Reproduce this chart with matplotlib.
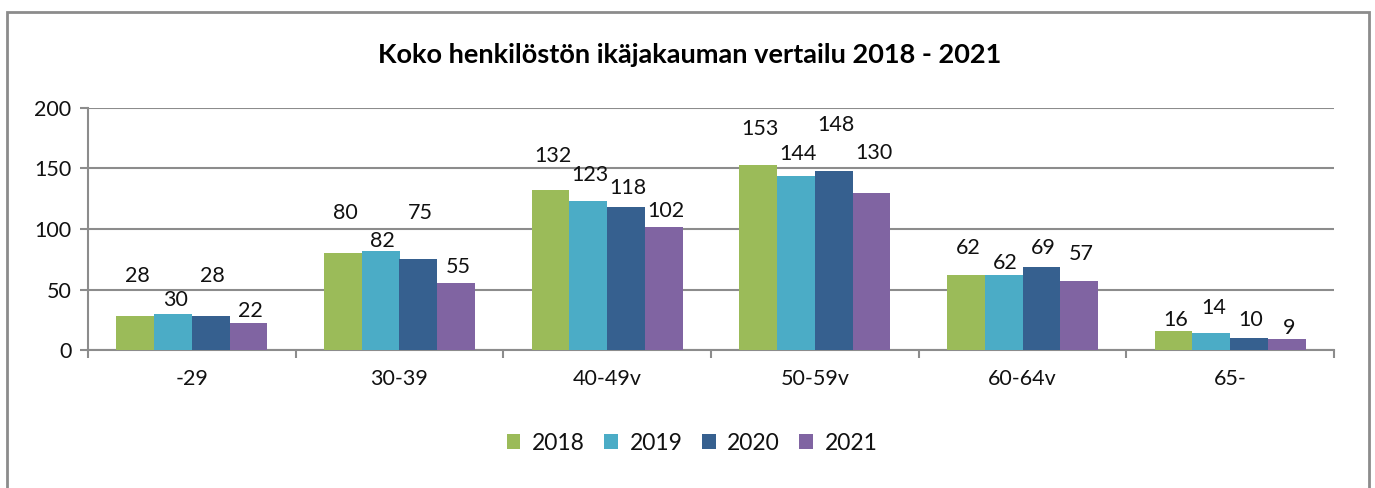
import matplotlib
matplotlib.use('Agg')
import matplotlib.pyplot as plt
import matplotlib.patches as patches
import numpy as np

# ── DATA ─────────────────────────────────────────────────────────────────────
CATEGORIES = ['-29', '30-39', '40-49v', '50-59v', '60-64v', '65-']
YEARS = ['2018', '2019', '2020', '2021']
V2018 = [28, 80, 132, 153, 62, 16]
V2019 = [30, 82, 123, 144, 62, 14]
V2020 = [28, 75, 118, 148, 69, 10]
V2021 = [22, 55, 102, 130, 57, 9]
TITLE = 'Koko henkilöstön ikäjakauman vertailu 2018 - 2021'

# label heights (data units) as placed by hand in the original
LABEL_Y = [
    [61, 113, 160, 183, 84, 25],
    [41, 90, 145, 162, 72, 35],
    [61, 113, 134, 186, 84, 25],
    [32, 69, 115, 163, 79, 18],
]

COLORS = ['#9BBB59', '#4BACC6', '#36608F', '#8064A2']
GRID = '#8C8C8C'
FONT = 'Lato'

plt.rcParams['font.family'] = FONT

fig = plt.figure(figsize=(13.75, 4.88), dpi=100)
ax = fig.add_axes([88 / 1375, 1 - 350 / 488, (1334 - 88) / 1375, (350 - 108) / 488])

series = [V2018, V2019, V2020, V2021]
x = np.arange(len(CATEGORIES))
w = 0.1815
for i, (vals, col, year) in enumerate(zip(series, COLORS, YEARS)):
    xs = x + (i - 1.5) * w
    ax.bar(xs, vals, width=w, color=col, label=year, zorder=3, linewidth=0)
    for xi, v, ly in zip(xs, vals, LABEL_Y[i]):
        ax.text(xi + 0.01, ly, str(v), ha='center', va='center', fontsize=15.5,
                color='#111111', zorder=4)

ax.set_xlim(-0.5, len(CATEGORIES) - 0.5)
ax.set_ylim(0, 200)
ax.set_yticks([0, 50, 100, 150, 200])
ax.yaxis.grid(True, color=GRID, linewidth=1.5, zorder=0)
ax.tick_params(axis='y', length=6, width=1.5, color=GRID, labelsize=15.5, pad=6,
               labelcolor='#111111')

ax.set_xticks(np.arange(-0.5, len(CATEGORIES)), [])
ax.set_xticks(x, CATEGORIES, minor=True)
ax.tick_params(axis='x', which='major', length=6, width=1.5, color=GRID, direction='out')
ax.tick_params(axis='x', which='minor', length=0, labelsize=15.5, pad=14,
               labelcolor='#111111')

for s in ['top', 'right']:
    ax.spines[s].set_visible(False)
for s in ['left', 'bottom']:
    ax.spines[s].set_color(GRID)
    ax.spines[s].set_linewidth(1.5)

fig.text(690 / 1375, 1 - 55 / 488, TITLE, ha='center', va='center',
         fontsize=19.5, fontweight='bold', color='#000000')

handles, labels = ax.get_legend_handles_labels()
fig.legend(handles, labels, loc='center', bbox_to_anchor=(692 / 1375, 1 - 443 / 488),
           ncol=4, frameon=False, fontsize=16.5, handlelength=0.6, handleheight=0.6,
           handletextpad=0.5, columnspacing=0.85, labelcolor='#111111')

fig.add_artist(patches.Rectangle((7 / 1375, -0.1), (1369 - 7) / 1375, 1.1 - 12 / 488,
                                 transform=fig.transFigure, fill=False,
                                 edgecolor='#8C8C8C', linewidth=2))

fig.savefig('out.png', dpi=100)
